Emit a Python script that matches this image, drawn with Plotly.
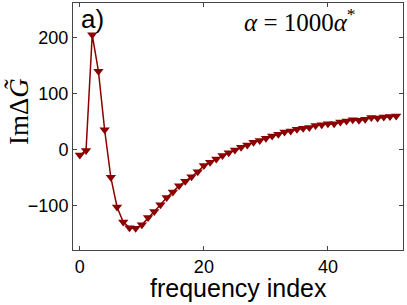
import plotly.graph_objects as go

freq_index = list(range(52))
im_delta_g = [-10, -2, 205, 140, 35, -50, -103, -130, -140, -141,
              -135, -122, -111, -99, -86, -76, -65, -57, -49, -40,
              -29, -23, -17, -11, -6, -1, 4, 8, 13, 16,
              20, 24, 27, 31, 33, 36, 38, 39, 43, 44,
              46, 46, 49, 51, 53, 52, 54, 57, 56, 58,
              59, 60]
x_ticks = [0, 20, 40]
y_ticks = [-100, 0, 100, 200]

W, H = 407, 305
L, R, T, B = 73, 4, 3, 55
pw, ph = W - L - R, H - T - B

def px(xp):
    return (xp - L) / pw

def py(yp):
    return 1 - (yp - T) / ph

fig = go.Figure()
fig.add_trace(go.Scatter(
    x=freq_index, y=im_delta_g, mode="lines+markers",
    line=dict(color="#8B0000", width=1.5),
    marker=dict(symbol="triangle-down", size=9, color="#8B0000"),
    showlegend=False,
))

axis_common = dict(
    showgrid=False, zeroline=False, showline=True, linecolor="#444444",
    linewidth=1, mirror="allticks", ticks="inside", ticklen=4, automargin=False,
    tickcolor="#444444", tickfont=dict(family="Liberation Sans", size=18, color="black"),
)
fig.update_xaxes(range=[-1.1, 52.1], tickvals=x_ticks, **axis_common)
fig.update_yaxes(range=[-180, 262], tickvals=y_ticks,
                 ticktext=["\u2212100" if v < 0 else str(v) for v in y_ticks],
                 **axis_common)

fig.update_layout(
    width=W, height=H, margin=dict(l=L, r=R, t=T, b=B, autoexpand=False),
    paper_bgcolor="white", plot_bgcolor="white",
    annotations=[
        dict(text="frequency index", x=0.5, y=py(288), xref="paper", yref="paper",
             showarrow=False, xanchor="center", yanchor="middle",
             font=dict(family="Liberation Sans", size=25, color="black")),
        dict(text="Im\u0394<i>G\u0303</i>", x=px(19), y=py(112), xref="paper", yref="paper",
             showarrow=False, textangle=-90, xanchor="center", yanchor="middle",
             font=dict(family="Liberation Serif", size=27, color="black")),
        dict(text="a)", x=px(79), y=py(19), xref="paper", yref="paper",
             showarrow=False, xanchor="left", yanchor="middle",
             font=dict(family="Liberation Sans", size=26, color="black")),
        dict(text="<i>\u03b1</i> = 1000<i>\u03b1</i><sup>*</sup>", x=px(242), y=py(20),
             xref="paper", yref="paper", showarrow=False, xanchor="left", yanchor="middle",
             font=dict(family="Liberation Serif", size=25, color="black")),
    ],
)
fig.write_html("out.html", config={"displayModeBar": False},
               post_script="document.body.style.margin='0';document.body.style.overflow='hidden';")
